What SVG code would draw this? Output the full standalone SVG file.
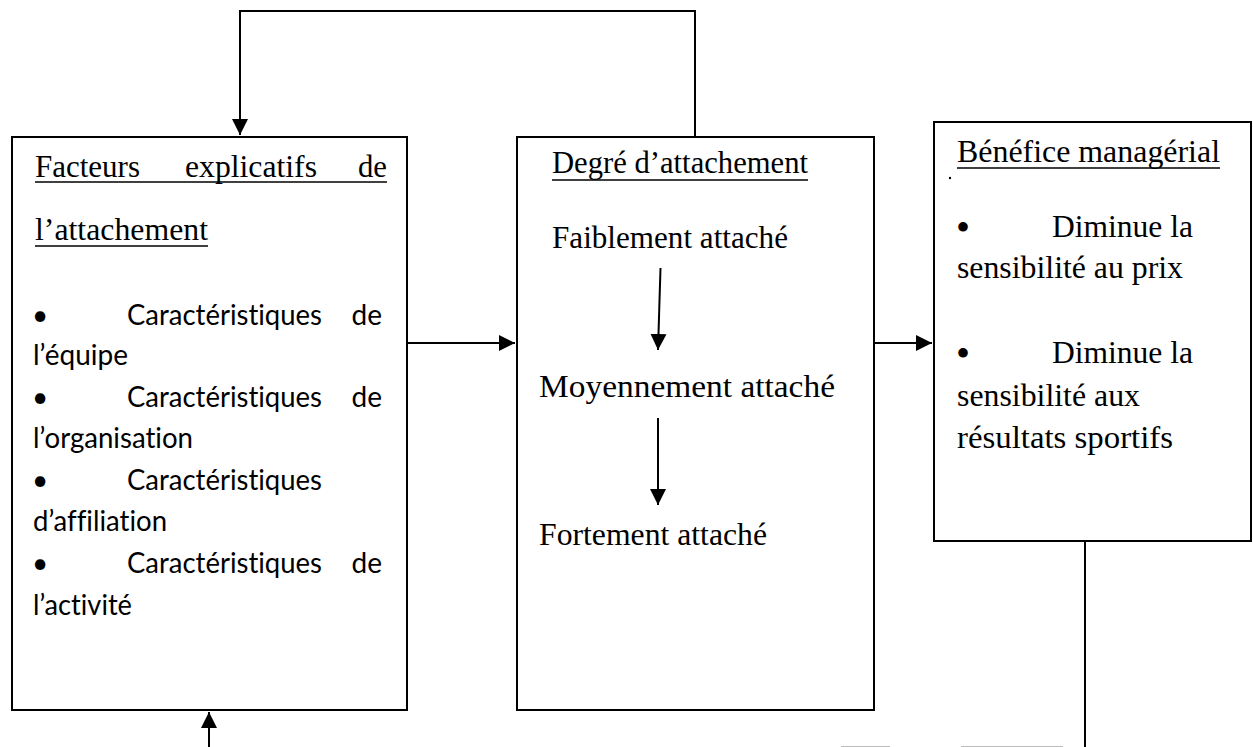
<svg xmlns="http://www.w3.org/2000/svg" width="1253" height="747" viewBox="0 0 1253 747">
<defs>
<marker id="ah" markerUnits="userSpaceOnUse" markerWidth="17" markerHeight="17" viewBox="0 0 17 17" refX="16" refY="8.5" orient="auto">
<path d="M0,0.5 L16,8.5 L0,16.5 Z" fill="#000"/>
</marker>
<style>
.box{fill:#fff;stroke:#000;stroke-width:2}
.ln{fill:none;stroke:#000;stroke-width:2}
.sf{font-family:"Liberation Serif","Times New Roman",serif;font-size:31px;fill:#000}
.ss{font-family:Lato,"Liberation Sans",sans-serif;font-size:28px;fill:#000;font-variant-ligatures:none}
.ul{stroke:#000;stroke-width:1.5}
.bt{font-family:"Liberation Serif","Times New Roman",serif;font-size:40px;fill:#000}
</style>
</defs>
<rect width="1253" height="747" fill="#fff"/>
<g id="node-facteurs">
<rect class="box" x="12" y="137" width="395" height="573"/>
<text class="sf" x="35" y="177" textLength="105" lengthAdjust="spacingAndGlyphs">Facteurs</text>
<text class="sf" x="185" y="177" textLength="132" lengthAdjust="spacingAndGlyphs">explicatifs</text>
<text class="sf" x="358" y="177" textLength="29" lengthAdjust="spacingAndGlyphs">de</text>
<line class="ul" x1="35" y1="182" x2="387" y2="182"/>
<text class="sf" x="35" y="240" textLength="173" lengthAdjust="spacingAndGlyphs">l’attachement</text>
<line class="ul" x1="35" y1="246" x2="208" y2="246"/>
<text class="ss" x="32" y="325">•</text>
<text class="ss" x="127" y="325" textLength="195" lengthAdjust="spacingAndGlyphs">Caractéristiques</text>
<text class="ss" x="382" y="325" text-anchor="end">de</text>
<text class="ss" x="33" y="365" textLength="95" lengthAdjust="spacingAndGlyphs">l’équipe</text>
<text class="ss" x="32" y="407">•</text>
<text class="ss" x="127" y="407" textLength="195" lengthAdjust="spacingAndGlyphs">Caractéristiques</text>
<text class="ss" x="382" y="407" text-anchor="end">de</text>
<text class="ss" x="33" y="448" textLength="160" lengthAdjust="spacingAndGlyphs">l’organisation</text>
<text class="ss" x="32" y="490">•</text>
<text class="ss" x="127" y="490" textLength="195" lengthAdjust="spacingAndGlyphs">Caractéristiques</text>
<text class="ss" x="33" y="531" textLength="134" lengthAdjust="spacingAndGlyphs">d’affiliation</text>
<text class="ss" x="32" y="573">•</text>
<text class="ss" x="127" y="573" textLength="195" lengthAdjust="spacingAndGlyphs">Caractéristiques</text>
<text class="ss" x="382" y="573" text-anchor="end">de</text>
<text class="ss" x="33" y="615" textLength="99" lengthAdjust="spacingAndGlyphs">l’activité</text>
</g>
<g id="node-degre">
<rect class="box" x="517" y="137" width="357" height="573"/>
<text class="sf" x="552" y="173" textLength="256" lengthAdjust="spacingAndGlyphs">Degré d’attachement</text>
<line class="ul" x1="552" y1="180" x2="808" y2="180"/>
<text class="sf" x="552" y="248" textLength="236" lengthAdjust="spacingAndGlyphs">Faiblement attaché</text>
<text class="sf" x="539" y="397" textLength="296" lengthAdjust="spacingAndGlyphs">Moyennement attaché</text>
<text class="sf" x="539" y="545" textLength="228" lengthAdjust="spacingAndGlyphs">Fortement attaché</text>
</g>
<g id="node-benefice">
<rect class="box" x="934" y="122" width="317" height="419"/>
<text class="sf" x="957" y="162" textLength="263" lengthAdjust="spacingAndGlyphs">Bénéfice managérial</text>
<line class="ul" x1="957" y1="168" x2="1220" y2="168"/>
<circle cx="950" cy="178" r="1.2" fill="#000"/>
<text class="bt" x="956" y="241">•</text>
<text class="sf" x="1052" y="237" textLength="141" lengthAdjust="spacingAndGlyphs">Diminue la</text>
<text class="sf" x="957" y="278" textLength="226" lengthAdjust="spacingAndGlyphs">sensibilité au prix</text>
<text class="bt" x="956" y="367">•</text>
<text class="sf" x="1052" y="363" textLength="141" lengthAdjust="spacingAndGlyphs">Diminue la</text>
<text class="sf" x="957" y="406" textLength="183" lengthAdjust="spacingAndGlyphs">sensibilité aux</text>
<text class="sf" x="957" y="448" textLength="216" lengthAdjust="spacingAndGlyphs">résultats sportifs</text>
</g>
<g id="connectors">
<path class="ln" d="M695,137 V11 H240 V135" marker-end="url(#ah)"/>
<line class="ln" x1="407" y1="343" x2="515" y2="343" marker-end="url(#ah)"/>
<line class="ln" x1="874" y1="343" x2="932" y2="343" marker-end="url(#ah)"/>
<line class="ln" x1="209" y1="747" x2="209" y2="712" marker-end="url(#ah)"/>
<line class="ln" x1="1085" y1="541" x2="1085" y2="747"/>
<line class="ln" x1="660.5" y1="268" x2="658" y2="350" marker-end="url(#ah)"/>
<line class="ln" x1="658" y1="418" x2="658" y2="505" marker-end="url(#ah)"/>
<line x1="841" y1="746.5" x2="890" y2="746.5" stroke="#bbb" stroke-width="1"/>
<line x1="961" y1="746.5" x2="1063" y2="746.5" stroke="#bbb" stroke-width="1"/>
</g>
</svg>
